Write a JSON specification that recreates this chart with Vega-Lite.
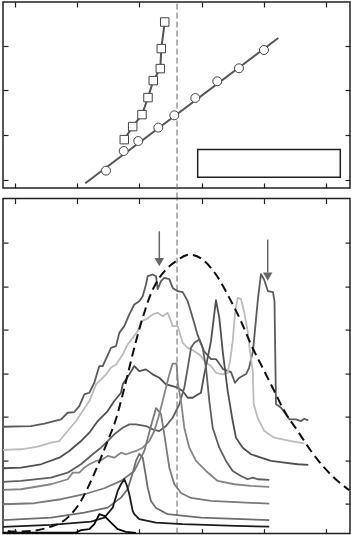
{
 "$schema": "https://vega.github.io/schema/vega-lite/v6.json",
 "padding": {"left": 1, "top": 0, "right": 0, "bottom": 0},
 "background": "white",
 "spacing": 10.6,
 "bounds": "flush",
 "config": {
  "view": {"stroke": "#231f20", "strokeWidth": 1.5},
  "axis": {"labels": false, "domain": false, "grid": false, "title": null, "ticks": true, "tickSize": -5, "tickColor": "#231f20", "tickWidth": 1.2}
 },
 "datasets": {
  "vtop": [{"x": 2.605, "y": -0.425, "y2": 3.976}],
  "vbot": [{"x": 2.605, "y": -0.69, "y2": 7.021}],
  "sq": [
   {"x": 1.757, "y": 0.895}, {"x": 1.892, "y": 1.187}, {"x": 2.042, "y": 1.455}, {"x": 2.138, "y": 1.836},
   {"x": 2.223, "y": 2.216}, {"x": 2.336, "y": 2.485}, {"x": 2.352, "y": 2.933}, {"x": 2.407, "y": 3.528}
  ],
  "ci": [
   {"x": 1.463, "y": 0.201}, {"x": 1.748, "y": 0.640}, {"x": 1.982, "y": 0.864}, {"x": 2.304, "y": 1.164},
   {"x": 2.561, "y": 1.439}, {"x": 2.899, "y": 1.827}, {"x": 3.252, "y": 2.201}, {"x": 3.601, "y": 2.492}, {"x": 4.003, "y": 2.901}
  ],
  "fit": [{"x": 1.130, "y": -0.083}, {"x": 4.233, "y": 3.170}],
  "box": [{"x": 2.937, "x2": 5.230, "y": 0.051, "y2": 0.672}],
  "arrows": [{"x": 2.320, "y": 6.269, "y2": 5.65, "yh": 5.561}, {"x": 4.063, "y": 6.078, "y2": 5.32, "yh": 5.223}],
  "dash": [
   {"x": -0.117, "y": -0.628}, {"x": -0.011, "y": -0.644}, {"x": 0.257, "y": -0.628}, {"x": 0.526, "y": -0.552},
   {"x": 0.847, "y": -0.322}, {"x": 1.061, "y": 0.062}, {"x": 1.222, "y": 0.522}, {"x": 1.383, "y": 1.057},
   {"x": 1.490, "y": 1.441}, {"x": 1.624, "y": 1.947}, {"x": 1.732, "y": 2.515}, {"x": 1.838, "y": 3.127},
   {"x": 1.945, "y": 3.740}, {"x": 2.053, "y": 4.276}, {"x": 2.159, "y": 4.736}, {"x": 2.320, "y": 5.195},
   {"x": 2.428, "y": 5.389}, {"x": 2.588, "y": 5.579}, {"x": 2.802, "y": 5.733}, {"x": 3.018, "y": 5.618},
   {"x": 3.231, "y": 5.274}, {"x": 3.446, "y": 4.736}, {"x": 3.633, "y": 4.200}, {"x": 3.794, "y": 3.664},
   {"x": 4.008, "y": 3.051}, {"x": 4.169, "y": 2.591}, {"x": 4.330, "y": 2.131}, {"x": 4.545, "y": 1.671},
   {"x": 4.759, "y": 1.212}, {"x": 4.973, "y": 0.828}, {"x": 5.188, "y": 0.522}, {"x": 5.375, "y": 0.308}
  ],
  "spec": [
   {"s": "A", "x": -0.193, "y": 1.770}, {"s": "A", "x": 0.257, "y": 1.786}, {"s": "A", "x": 0.471, "y": 1.839}, {"s": "A", "x": 0.740, "y": 1.940},
   {"s": "A", "x": 0.847, "y": 2.092}, {"s": "A", "x": 0.953, "y": 2.108}, {"s": "A", "x": 1.034, "y": 2.246}, {"s": "A", "x": 1.114, "y": 2.515},
   {"s": "A", "x": 1.195, "y": 2.552}, {"s": "A", "x": 1.275, "y": 2.782}, {"s": "A", "x": 1.355, "y": 3.166}, {"s": "A", "x": 1.410, "y": 3.166},
   {"s": "A", "x": 1.543, "y": 3.586}, {"s": "A", "x": 1.624, "y": 3.625}, {"s": "A", "x": 1.677, "y": 3.931}, {"s": "A", "x": 1.757, "y": 4.085},
   {"s": "A", "x": 1.838, "y": 4.354}, {"s": "A", "x": 1.918, "y": 4.584}, {"s": "A", "x": 1.998, "y": 4.660}, {"s": "A", "x": 2.053, "y": 4.775},
   {"s": "A", "x": 2.106, "y": 5.044}, {"s": "A", "x": 2.133, "y": 5.235}, {"s": "A", "x": 2.214, "y": 5.274}, {"s": "A", "x": 2.267, "y": 5.235},
   {"s": "A", "x": 2.294, "y": 4.936}, {"s": "A", "x": 2.347, "y": 5.120}, {"s": "A", "x": 2.400, "y": 5.196}, {"s": "A", "x": 2.481, "y": 5.166},
   {"s": "A", "x": 2.535, "y": 4.966}, {"s": "A", "x": 2.616, "y": 4.890}, {"s": "A", "x": 2.696, "y": 4.867}, {"s": "A", "x": 2.777, "y": 4.660},
   {"s": "A", "x": 2.857, "y": 4.276}, {"s": "A", "x": 2.937, "y": 3.878}, {"s": "A", "x": 3.039, "y": 3.510}, {"s": "A", "x": 3.151, "y": 3.327},
   {"s": "A", "x": 3.231, "y": 3.327}, {"s": "A", "x": 3.344, "y": 3.097}, {"s": "A", "x": 3.473, "y": 3.028}, {"s": "A", "x": 3.537, "y": 2.782},
   {"s": "A", "x": 3.601, "y": 2.890}, {"s": "A", "x": 3.714, "y": 2.982}, {"s": "A", "x": 3.762, "y": 3.120}, {"s": "A", "x": 3.826, "y": 3.510},
   {"s": "A", "x": 3.907, "y": 4.729}, {"s": "A", "x": 3.955, "y": 5.281}, {"s": "A", "x": 4.003, "y": 5.166}, {"s": "A", "x": 4.067, "y": 4.890},
   {"s": "A", "x": 4.148, "y": 4.867}, {"s": "A", "x": 4.172, "y": 4.660}, {"s": "A", "x": 4.196, "y": 2.292}, {"s": "A", "x": 4.277, "y": 2.207},
   {"s": "A", "x": 4.357, "y": 2.055}, {"s": "A", "x": 4.410, "y": 1.940}, {"s": "A", "x": 4.518, "y": 1.940}, {"s": "A", "x": 4.598, "y": 1.901},
   {"s": "A", "x": 4.651, "y": 1.954}, {"s": "A", "x": 4.715, "y": 1.917},

   {"s": "B", "x": -0.193, "y": 1.235}, {"s": "B", "x": 0.096, "y": 1.251}, {"s": "B", "x": 0.365, "y": 1.310}, {"s": "B", "x": 0.579, "y": 1.402},
   {"s": "B", "x": 0.712, "y": 1.441}, {"s": "B", "x": 0.847, "y": 1.671}, {"s": "B", "x": 0.981, "y": 1.901}, {"s": "B", "x": 1.088, "y": 2.131},
   {"s": "B", "x": 1.195, "y": 2.361}, {"s": "B", "x": 1.302, "y": 2.745}, {"s": "B", "x": 1.383, "y": 2.860}, {"s": "B", "x": 1.463, "y": 2.975},
   {"s": "B", "x": 1.543, "y": 3.127}, {"s": "B", "x": 1.624, "y": 3.205}, {"s": "B", "x": 1.732, "y": 3.435}, {"s": "B", "x": 1.812, "y": 3.664},
   {"s": "B", "x": 1.892, "y": 3.816}, {"s": "B", "x": 1.973, "y": 3.970}, {"s": "B", "x": 2.026, "y": 4.200}, {"s": "B", "x": 2.106, "y": 4.239},
   {"s": "B", "x": 2.214, "y": 4.354}, {"s": "B", "x": 2.294, "y": 4.391}, {"s": "B", "x": 2.375, "y": 4.315}, {"s": "B", "x": 2.455, "y": 4.391},
   {"s": "B", "x": 2.508, "y": 4.200}, {"s": "B", "x": 2.535, "y": 4.085}, {"s": "B", "x": 2.616, "y": 4.085}, {"s": "B", "x": 2.696, "y": 3.701},
   {"s": "B", "x": 2.777, "y": 3.586}, {"s": "B", "x": 2.883, "y": 3.510}, {"s": "B", "x": 2.963, "y": 3.435}, {"s": "B", "x": 3.071, "y": 3.241},
   {"s": "B", "x": 3.151, "y": 3.166}, {"s": "B", "x": 3.231, "y": 3.012}, {"s": "B", "x": 3.339, "y": 2.975}, {"s": "B", "x": 3.420, "y": 3.012},
   {"s": "B", "x": 3.457, "y": 3.281}, {"s": "B", "x": 3.500, "y": 3.740}, {"s": "B", "x": 3.537, "y": 4.384}, {"s": "B", "x": 3.580, "y": 4.736},
   {"s": "B", "x": 3.634, "y": 4.706}, {"s": "B", "x": 3.682, "y": 4.430}, {"s": "B", "x": 3.741, "y": 3.970}, {"s": "B", "x": 3.778, "y": 3.510},
   {"s": "B", "x": 3.822, "y": 3.051}, {"s": "B", "x": 3.838, "y": 2.285}, {"s": "B", "x": 3.902, "y": 1.977}, {"s": "B", "x": 4.008, "y": 1.671},
   {"s": "B", "x": 4.169, "y": 1.517}, {"s": "B", "x": 4.437, "y": 1.441}, {"s": "B", "x": 4.651, "y": 1.389},

   {"s": "C", "x": -0.193, "y": 0.814}, {"s": "C", "x": 0.096, "y": 0.828}, {"s": "C", "x": 0.418, "y": 0.906}, {"s": "C", "x": 0.712, "y": 1.057},
   {"s": "C", "x": 0.873, "y": 1.212}, {"s": "C", "x": 1.061, "y": 1.441}, {"s": "C", "x": 1.195, "y": 1.632}, {"s": "C", "x": 1.330, "y": 1.901},
   {"s": "C", "x": 1.490, "y": 2.131}, {"s": "C", "x": 1.596, "y": 2.361}, {"s": "C", "x": 1.704, "y": 2.552}, {"s": "C", "x": 1.732, "y": 2.745},
   {"s": "C", "x": 1.838, "y": 2.975}, {"s": "C", "x": 1.918, "y": 3.166}, {"s": "C", "x": 1.998, "y": 3.051}, {"s": "C", "x": 2.106, "y": 3.090},
   {"s": "C", "x": 2.214, "y": 2.975}, {"s": "C", "x": 2.320, "y": 2.897}, {"s": "C", "x": 2.428, "y": 2.745}, {"s": "C", "x": 2.535, "y": 2.706},
   {"s": "C", "x": 2.616, "y": 2.667}, {"s": "C", "x": 2.696, "y": 2.591}, {"s": "C", "x": 2.777, "y": 2.437}, {"s": "C", "x": 2.857, "y": 2.437},
   {"s": "C", "x": 2.926, "y": 2.499}, {"s": "C", "x": 2.990, "y": 2.552}, {"s": "C", "x": 3.043, "y": 2.975}, {"s": "C", "x": 3.087, "y": 3.281},
   {"s": "C", "x": 3.151, "y": 3.740}, {"s": "C", "x": 3.231, "y": 4.683}, {"s": "C", "x": 3.285, "y": 4.276}, {"s": "C", "x": 3.339, "y": 3.510},
   {"s": "C", "x": 3.420, "y": 2.591}, {"s": "C", "x": 3.500, "y": 1.901}, {"s": "C", "x": 3.553, "y": 1.517}, {"s": "C", "x": 3.661, "y": 1.287},
   {"s": "C", "x": 3.794, "y": 1.136}, {"s": "C", "x": 3.955, "y": 1.057}, {"s": "C", "x": 4.116, "y": 0.982}, {"s": "C", "x": 4.330, "y": 0.943},
   {"s": "C", "x": 4.545, "y": 0.906}, {"s": "C", "x": 4.715, "y": 0.890},

   {"s": "D", "x": -0.193, "y": 0.499}, {"s": "D", "x": 0.096, "y": 0.522}, {"s": "D", "x": 0.579, "y": 0.598}, {"s": "D", "x": 0.847, "y": 0.713},
   {"s": "D", "x": 1.061, "y": 0.906}, {"s": "D", "x": 1.249, "y": 1.136}, {"s": "D", "x": 1.383, "y": 1.287}, {"s": "D", "x": 1.490, "y": 1.441},
   {"s": "D", "x": 1.596, "y": 1.595}, {"s": "D", "x": 1.732, "y": 1.747}, {"s": "D", "x": 1.838, "y": 1.825}, {"s": "D", "x": 1.945, "y": 1.825},
   {"s": "D", "x": 2.106, "y": 1.786}, {"s": "D", "x": 2.214, "y": 1.710}, {"s": "D", "x": 2.320, "y": 1.671}, {"s": "D", "x": 2.428, "y": 1.786},
   {"s": "D", "x": 2.535, "y": 1.977}, {"s": "D", "x": 2.641, "y": 2.285}, {"s": "D", "x": 2.722, "y": 2.667}, {"s": "D", "x": 2.777, "y": 3.127},
   {"s": "D", "x": 2.830, "y": 3.586}, {"s": "D", "x": 2.883, "y": 3.701}, {"s": "D", "x": 2.963, "y": 3.779}, {"s": "D", "x": 3.018, "y": 3.586},
   {"s": "D", "x": 3.071, "y": 3.127}, {"s": "D", "x": 3.124, "y": 2.361}, {"s": "D", "x": 3.178, "y": 1.747}, {"s": "D", "x": 3.285, "y": 1.287},
   {"s": "D", "x": 3.392, "y": 0.982}, {"s": "D", "x": 3.500, "y": 0.752}, {"s": "D", "x": 3.633, "y": 0.637}, {"s": "D", "x": 3.741, "y": 0.561},
   {"s": "D", "x": 3.822, "y": 0.598}, {"s": "D", "x": 3.902, "y": 0.561}, {"s": "D", "x": 4.088, "y": 0.545},

   {"s": "E", "x": -0.193, "y": 0.315}, {"s": "E", "x": 0.096, "y": 0.331}, {"s": "E", "x": 0.579, "y": 0.446}, {"s": "E", "x": 0.847, "y": 0.561},
   {"s": "E", "x": 0.928, "y": 0.713}, {"s": "E", "x": 1.034, "y": 0.713}, {"s": "E", "x": 1.114, "y": 0.828}, {"s": "E", "x": 1.195, "y": 0.906},
   {"s": "E", "x": 1.302, "y": 0.982}, {"s": "E", "x": 1.383, "y": 0.998}, {"s": "E", "x": 1.490, "y": 1.097}, {"s": "E", "x": 1.596, "y": 1.057},
   {"s": "E", "x": 1.704, "y": 1.172}, {"s": "E", "x": 1.785, "y": 1.136}, {"s": "E", "x": 1.945, "y": 1.212}, {"s": "E", "x": 2.053, "y": 1.287},
   {"s": "E", "x": 2.159, "y": 1.441}, {"s": "E", "x": 2.240, "y": 1.671}, {"s": "E", "x": 2.320, "y": 2.055}, {"s": "E", "x": 2.400, "y": 2.515},
   {"s": "E", "x": 2.481, "y": 2.975}, {"s": "E", "x": 2.535, "y": 3.223}, {"s": "E", "x": 2.596, "y": 3.223}, {"s": "E", "x": 2.621, "y": 2.745},
   {"s": "E", "x": 2.669, "y": 2.361}, {"s": "E", "x": 2.722, "y": 1.747}, {"s": "E", "x": 2.802, "y": 1.287}, {"s": "E", "x": 2.910, "y": 0.982},
   {"s": "E", "x": 3.071, "y": 0.752}, {"s": "E", "x": 3.259, "y": 0.522}, {"s": "E", "x": 3.526, "y": 0.446}, {"s": "E", "x": 3.794, "y": 0.407},
   {"s": "E", "x": 4.088, "y": 0.384},

   {"s": "F", "x": -0.193, "y": -0.014}, {"s": "F", "x": 0.310, "y": 0.009}, {"s": "F", "x": 0.740, "y": 0.101}, {"s": "F", "x": 1.114, "y": 0.216},
   {"s": "F", "x": 1.436, "y": 0.354}, {"s": "F", "x": 1.704, "y": 0.522}, {"s": "F", "x": 1.918, "y": 0.752}, {"s": "F", "x": 2.079, "y": 1.212},
   {"s": "F", "x": 2.186, "y": 1.786}, {"s": "F", "x": 2.267, "y": 2.200}, {"s": "F", "x": 2.347, "y": 2.062}, {"s": "F", "x": 2.400, "y": 1.595},
   {"s": "F", "x": 2.481, "y": 0.828}, {"s": "F", "x": 2.561, "y": 0.453}, {"s": "F", "x": 2.669, "y": 0.246}, {"s": "F", "x": 2.830, "y": 0.131},
   {"s": "F", "x": 3.151, "y": 0.062}, {"s": "F", "x": 3.633, "y": 0.028}, {"s": "F", "x": 4.088, "y": 0.0},

   {"s": "G", "x": -0.193, "y": -0.382}, {"s": "G", "x": 0.579, "y": -0.322}, {"s": "G", "x": 1.114, "y": -0.207}, {"s": "G", "x": 1.490, "y": -0.092},
   {"s": "G", "x": 1.704, "y": 0.138}, {"s": "G", "x": 1.812, "y": 0.338}, {"s": "G", "x": 1.892, "y": 0.706}, {"s": "G", "x": 1.945, "y": 0.982},
   {"s": "G", "x": 1.998, "y": 1.143}, {"s": "G", "x": 2.053, "y": 1.057}, {"s": "G", "x": 2.090, "y": 0.752}, {"s": "G", "x": 2.133, "y": 0.368},
   {"s": "G", "x": 2.186, "y": 0.062}, {"s": "G", "x": 2.267, "y": -0.099}, {"s": "G", "x": 2.455, "y": -0.244}, {"s": "G", "x": 2.990, "y": -0.322},
   {"s": "G", "x": 4.088, "y": -0.382},

   {"s": "H", "x": -0.193, "y": -0.536}, {"s": "H", "x": 0.579, "y": -0.490}, {"s": "H", "x": 1.222, "y": -0.414}, {"s": "H", "x": 1.436, "y": -0.322},
   {"s": "H", "x": 1.571, "y": -0.092}, {"s": "H", "x": 1.651, "y": 0.292}, {"s": "H", "x": 1.704, "y": 0.446}, {"s": "H", "x": 1.757, "y": 0.561},
   {"s": "H", "x": 1.801, "y": 0.407}, {"s": "H", "x": 1.838, "y": 0.216}, {"s": "H", "x": 1.892, "y": -0.168}, {"s": "H", "x": 1.918, "y": -0.244},
   {"s": "H", "x": 1.998, "y": -0.359}, {"s": "H", "x": 2.267, "y": -0.437}, {"s": "H", "x": 2.696, "y": -0.474}, {"s": "H", "x": 3.553, "y": -0.513},
   {"s": "H", "x": 4.088, "y": -0.529},

   {"s": "I", "x": -0.193, "y": -0.667}, {"s": "I", "x": 0.310, "y": -0.667}, {"s": "I", "x": 0.981, "y": -0.667}, {"s": "I", "x": 1.061, "y": -0.611},
   {"s": "I", "x": 1.195, "y": -0.589}, {"s": "I", "x": 1.275, "y": -0.474}, {"s": "I", "x": 1.355, "y": -0.244}, {"s": "I", "x": 1.436, "y": -0.283},
   {"s": "I", "x": 1.543, "y": -0.437}, {"s": "I", "x": 1.651, "y": -0.589}, {"s": "I", "x": 1.785, "y": -0.651}, {"s": "I", "x": 1.945, "y": -0.674}
  ]
 },
 "vconcat": [
  {
   "width": 347,
   "height": 186,
   "encoding": {
    "x": {"field": "x", "type": "quantitative", "scale": {"domain": [-0.193, 5.386], "nice": false, "zero": false}, "axis": null},
    "y": {"field": "y", "type": "quantitative", "scale": {"domain": [-0.188, 3.976], "nice": false, "zero": false}, "axis": null}
   },
   "layer": [
    {
     "data": {"name": "vtop"},
     "mark": {"type": "rule", "color": "#666666", "strokeWidth": 1, "strokeDash": [6, 3]},
     "encoding": {
      "x": {"field": "x", "type": "quantitative", "scale": {"domain": [-0.193, 5.386], "nice": false, "zero": false}, "axis": {"orient": "bottom", "values": [0, 1, 2, 3, 4, 5]}},
      "y": {"field": "y", "type": "quantitative", "scale": {"domain": [-0.188, 3.976], "nice": false, "zero": false}, "axis": {"orient": "left", "values": [0, 1, 2, 3]}},
      "y2": {"field": "y2"}
     }
    },
    {
     "data": {"name": "fit"},
     "mark": {"type": "line", "color": "#555555", "strokeWidth": 2},
     "encoding": {
      "x": {"field": "x", "type": "quantitative", "scale": {"domain": [-0.193, 5.386], "nice": false, "zero": false}, "axis": {"orient": "top", "values": [0, 1, 2, 3, 4, 5]}},
      "y": {"field": "y", "type": "quantitative", "scale": {"domain": [-0.188, 3.976], "nice": false, "zero": false}, "axis": {"orient": "right", "values": [0, 1, 2, 3]}}
     }
    },
    {
     "data": {"name": "sq"},
     "mark": {"type": "line", "color": "#555555", "strokeWidth": 2}
    },
    {
     "data": {"name": "sq"},
     "mark": {"type": "point", "shape": "square", "size": 72, "filled": true, "fill": "white", "stroke": "#444444", "strokeWidth": 1, "opacity": 1}
    },
    {
     "data": {"name": "ci"},
     "mark": {"type": "point", "shape": "circle", "size": 80, "filled": true, "fill": "white", "stroke": "#444444", "strokeWidth": 1, "opacity": 1}
    },
    {
     "data": {"name": "box"},
     "mark": {"type": "rect", "fill": "white", "stroke": "#231f20", "strokeWidth": 1.5},
     "encoding": {"x2": {"field": "x2"}, "y2": {"field": "y2"}}
    }
   ],
   "resolve": {"axis": {"x": "independent", "y": "independent"}}
  },
  {
   "width": 347,
   "height": 335,
   "encoding": {
    "x": {"field": "x", "type": "quantitative", "scale": {"domain": [-0.193, 5.386], "nice": false, "zero": false}, "axis": null},
    "y": {"field": "y", "type": "quantitative", "scale": {"domain": [-0.69, 7.021], "nice": false, "zero": false}, "axis": null}
   },
   "layer": [
    {
     "data": {"name": "vbot"},
     "mark": {"type": "rule", "color": "#666666", "strokeWidth": 1, "strokeDash": [6, 3]},
     "encoding": {
      "x": {"field": "x", "type": "quantitative", "scale": {"domain": [-0.193, 5.386], "nice": false, "zero": false}, "axis": {"orient": "bottom", "values": [0, 1, 2, 3, 4, 5]}},
      "y": {"field": "y", "type": "quantitative", "scale": {"domain": [-0.69, 7.021], "nice": false, "zero": false}, "axis": {"orient": "left", "values": [0, 1, 2, 3, 4, 5, 6]}},
      "y2": {"field": "y2"}
     }
    },
    {
     "data": {"name": "spec"},
     "mark": {"type": "line", "strokeWidth": 1.8, "strokeJoin": "round"},
     "encoding": {
      "color": {"field": "s", "type": "nominal", "legend": null,
       "scale": {"domain": ["A", "B", "C", "D", "E", "F", "G", "H", "I"],
                 "range": ["#5b5b5b", "#bcbcbc", "#505050", "#5f5f5f", "#858585", "#7a7a7a", "#6e6e6e", "#1c1c1c", "#050505"]}}
     }
    },
    {
     "data": {"name": "dash"},
     "mark": {"type": "line", "color": "#111111", "strokeWidth": 2, "strokeDash": [9, 5], "interpolate": "monotone"},
     "encoding": {
      "x": {"field": "x", "type": "quantitative", "scale": {"domain": [-0.193, 5.386], "nice": false, "zero": false}, "axis": {"orient": "top", "values": [0, 1, 2, 3, 4, 5]}},
      "y": {"field": "y", "type": "quantitative", "scale": {"domain": [-0.69, 7.021], "nice": false, "zero": false}, "axis": {"orient": "right", "values": [0, 1, 2, 3, 4, 5, 6]}}
     }
    },
    {
     "data": {"name": "arrows"},
     "mark": {"type": "rule", "color": "#666666", "strokeWidth": 1.5},
     "encoding": {"y2": {"field": "y2"}}
    },
    {
     "data": {"name": "arrows"},
     "mark": {"type": "point", "shape": "triangle-down", "size": 90, "filled": true, "color": "#666666", "opacity": 1},
     "encoding": {"y": {"field": "yh", "type": "quantitative", "scale": {"domain": [-0.69, 7.021], "nice": false, "zero": false}, "axis": null}}
    }
   ],
   "resolve": {"axis": {"x": "independent", "y": "independent"}}
  }
 ]
}
